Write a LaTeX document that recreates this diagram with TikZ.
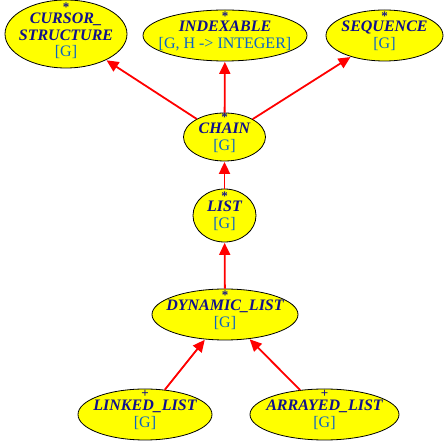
\documentclass[tikz,border=0pt]{standalone}
\usepackage{fontspec}
\setmainfont{Liberation Serif}
\usetikzlibrary{shapes.geometric,arrows.meta}
\definecolor{namecol}{HTML}{10108C}
\definecolor{gencol}{HTML}{0A64C8}
\definecolor{fillyel}{HTML}{FFFF00}
\definecolor{edgered}{HTML}{FF0000}
\tikzset{
  cls/.style={ellipse, draw=black, fill=fillyel, line width=0.8pt, inner sep=0pt},
  mktext/.style={inner sep=0pt, anchor=center, text=namecol, text height=5.5pt, text depth=0pt,
    font=\fontsize{13}{13}\selectfont\bfseries},
  nmtext/.style={inner sep=0pt, anchor=base, text=namecol, font=\fontsize{16}{16}\selectfont\bfseries\itshape},
  gntext/.style={inner sep=0pt, anchor=base, text=gencol, font=\fontsize{16}{16}\selectfont},
  inh/.style={draw=edgered, line width=1.8pt, -{Triangle[length=12pt,width=11pt]}, shorten >=0.5pt},
}
\newcommand{\mkstar}{\raisebox{-3.3pt}{*}}
\newcommand{\mkplus}{\raisebox{-0.5pt}{+}}
\newcommand{\classnode}[9]{%
  \node[cls, minimum width=#4pt, minimum height=#5pt] (#1) at (#2,#3) {};
  \node[mktext] (#1-m) at ([yshift=#9pt]#1.center) {#6};
  \node[nmtext] (#1-n) at ([yshift=3.5pt]#1.center) {#7};
  \node[gntext] (#1-g) at ([yshift=-13.5pt]#1.center) {#8};
}
\begin{document}
\begin{tikzpicture}[x=1pt,y=-1pt]
\useasboundingbox (0,0) rectangle (445,443);
\node[cls, minimum width=122pt, minimum height=68pt] (cursor) at (66,34) {};
\node[mktext] (cursor-m) at ([yshift=28.5pt]cursor.center) {\mkstar};
\node[nmtext] (cursor-n1) at ([yshift=10pt]cursor.center) {CURSOR\_};
\node[nmtext] (cursor-n2) at ([yshift=-6.7pt]cursor.center) {STRUCTURE};
\node[gntext] (cursor-g) at ([yshift=-23pt]cursor.center) {[G]};
\classnode{index}{225}{35.5}{164}{51}{\mkstar}{INDEXABLE}{[G, H -> INTEGER]}{21.3}
\classnode{seq}{384.5}{35.5}{117}{51}{\mkstar}{SEQUENCE}{[G]}{21.3}
\classnode{chain}{224.5}{137}{82}{48}{\mkstar}{CHAIN}{[G]}{21.3}
\classnode{list}{224.5}{215.5}{63}{53}{\mkstar}{LIST}{[G]}{21.3}
\classnode{dyn}{225}{314.5}{146}{51}{\mkstar}{DYNAMIC\_LIST}{[G]}{21.3}
\classnode{linked}{145}{414.5}{134}{51}{\mkplus}{LINKED\_LIST}{[G]}{20.5}
\classnode{arrayed}{324.5}{414.5}{149}{51}{\mkplus}{ARRAYED\_LIST}{[G]}{20.5}
\draw[inh] (chain) -- (cursor);
\draw[inh] (chain) -- (index);
\draw[inh] (chain) -- (seq);
\draw[inh] (list) -- (chain);
\draw[inh] (dyn) -- (list);
\draw[inh] (linked) -- (dyn);
\draw[inh] (arrayed) -- (dyn);
\end{tikzpicture}
\end{document}
